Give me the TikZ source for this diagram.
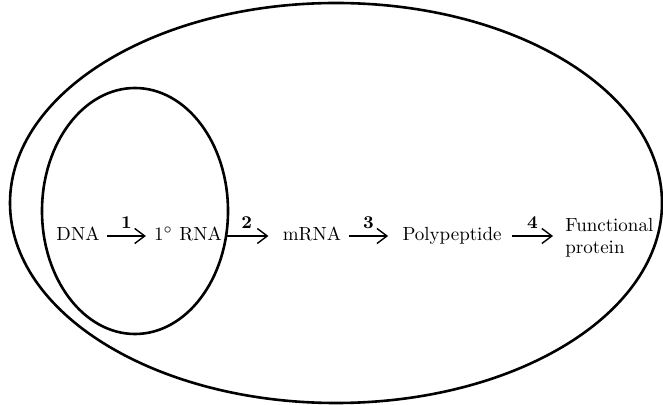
\documentclass[tikz,border=0pt]{standalone}
\usepackage{tikz}
\usetikzlibrary{positioning, arrows.meta}

\begin{document}
\begin{tikzpicture}[
    x=0.5pt, y=-0.5pt,
    font=\fontsize{9.5}{10.5}\selectfont,
    >={Straight Barb[length=5pt, width=7.5pt, line width=0.7pt]},
    cell/.style={draw=black, line width=1.3pt},
    term/.style={inner sep=0pt, anchor=base},
    conv/.style={->, line width=0.7pt},
    num/.style={above=3.5pt, font=\fontsize{9}{10}\selectfont\bfseries, inner sep=0pt}
]
\useasboundingbox (0,0) rectangle (663,405);

% ============ COMPARTMENTS ============
\draw[cell] (336,203) ellipse [x radius=326, y radius=200];
\draw[cell] (135,211) ellipse [x radius=93, y radius=123];

% ============ PATHWAY ============
\node[term] (dna)  at (78,241)  {DNA};
\node[term] (prna) at (188,241) {1$^\circ$ RNA};
\node[term] (mrna) at (312,241) {mRNA};
\node[term] (poly) at (452,241) {Polypeptide};
\node[term, anchor=north west, align=left, font=\fontsize{9.5}{11}\selectfont]
    (prot) at (565,218) {Functional\\protein};

% ============ ARROWS ============
\draw[conv] ([xshift=3.5pt]dna.east |- 0,236) -- ([xshift=-4pt]prna.west |- 0,236) node[num, midway] {1};
\draw[conv] ([xshift=1.5pt]prna.east |- 0,236) -- ([xshift=-7pt]mrna.west |- 0,236) node[num, midway] {2};
\draw[conv] ([xshift=3.5pt]mrna.east |- 0,236) -- ([xshift=-7pt]poly.west |- 0,236) node[num, midway] {3};
\draw[conv] ([xshift=5pt]poly.east |- 0,236) -- ([xshift=-6pt]prot.west |- 0,236) node[num, midway] {4};

\end{tikzpicture}
\end{document}
